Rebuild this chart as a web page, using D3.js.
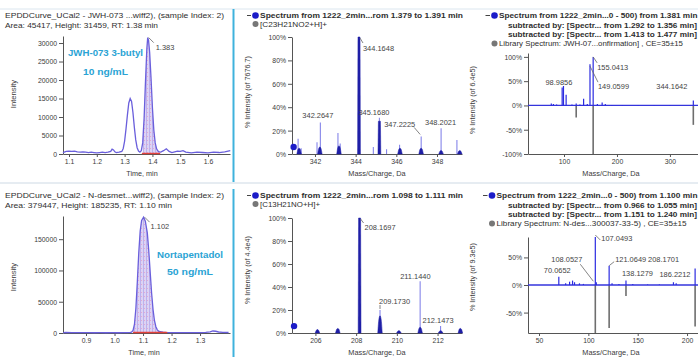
<!DOCTYPE html>
<html><head><meta charset="utf-8">
<script src="https://cdn.jsdelivr.net/npm/d3@7"></script>
<style>
body{margin:0;background:#fff;}
svg{display:block;}
</style></head><body>
<script>
// ---------- JWH-073 3-butyl : extracted-ion chromatogram ----------
const jwhTime = [1.078,1.09,1.10,1.11,1.12,1.13,1.14,1.15,1.16,1.17,1.18,1.19,1.20,1.21,1.22,1.23,1.24,1.25,1.255,1.26,1.265,1.27,1.28,1.29,1.295,1.30,1.305,1.31,1.315,1.32,1.325,1.33,1.335,1.34,1.345,1.35,1.355,1.36,1.365,1.37,1.375,1.38,1.383,1.386,1.39,1.395,1.40,1.405,1.41,1.415,1.42,1.425,1.43,1.44,1.45,1.46,1.47,1.48,1.49,1.50,1.51,1.52,1.54,1.56,1.58,1.60,1.62,1.64,1.66,1.68];
const jwhIntensity = [400,700,800,700,800,600,500,600,500,400,500,400,300,400,500,400,500,700,1300,1100,600,400,500,700,1500,3500,6800,10500,13800,15000,14200,11200,7200,3800,1700,800,500,900,3000,9500,19500,28500,31459,30800,27500,20500,12500,6500,3000,1400,800,600,500,900,1400,700,400,600,800,700,900,500,300,500,400,300,500,400,600,900];
const jwhApexRT = 1.383;
const jwhWindow = [1.362, 1.428];
const jwhYTicks = [0,5000,10000,15000,20000,25000,30000];
const jwhXTicks = [1.1,1.2,1.3,1.4,1.5,1.6];

// ---------- N-desmethyltapentadol : extracted-ion chromatogram ----------
const norTime = [0.82,0.83,0.85,0.87,0.89,0.91,0.93,0.95,0.97,0.99,1.01,1.03,1.045,1.055,1.06,1.065,1.07,1.075,1.08,1.085,1.09,1.095,1.102,1.108,1.115,1.12,1.125,1.13,1.135,1.14,1.145,1.15,1.155,1.16,1.17,1.18,1.20,1.22,1.24,1.26,1.28,1.30,1.32,1.335,1.345,1.355,1.365,1.38,1.40];
const norIntensity = [600,900,700,500,600,500,400,500,400,500,400,500,600,900,1500,4000,14000,40000,82000,128000,163000,180000,185235,179000,160000,132000,98000,64000,38000,20000,10000,5000,3000,2000,1200,900,700,600,500,600,500,700,900,1800,3200,2800,1600,1000,800];
const norApexRT = 1.102;
const norWindow = [1.065, 1.185];
const norYTicks = [0,50000,100000,150000];
const norXTicks = [0.9,1.0,1.1,1.2,1.3];

// ---------- TOF-MS spectra (centroid sticks + profile) ----------
const jwhMsStickMz  = [341.17,341.32,342.10,342.2647,343.13,343.24,344.1648,344.87,345.1680,345.52,346.16,347.2225,348.2021,348.98];
const jwhMsStickPct = [13,5,10,27,18,9,100,6,31,4,8,15,22,12];
const jwhMsProfileMz  = [341.22,342.24,343.18,344.1648,345.1680,346.18,347.22,348.20,349.12];
const jwhMsProfilePct = [5,6,7,100,28,5,5,3,3];
const jwhMsEdge = [340.95, 6];
const jwhMsLabels = [342.2647,344.1648,345.1680,347.2225,348.2021];
const jwhMsXTicks = [342,344,346,348];

const norMsStickMz  = [206.10,207.10,208.1697,209.1730,210.10,211.1440,212.1473,213.10];
const norMsStickPct = [3,3,100,20,2,45,6,4];
const norMsProfileMz  = [206.10,207.10,208.1697,209.1730,210.10,211.1440,212.15,213.12];
const norMsProfilePct = [3,4,100,15,2,5,2,4];
const norMsEdge = [204.95, 6];
const norMsLabels = [208.1697,209.1730,211.1440,212.1473];
const norMsXTicks = [206,208,210,212];

const pctTicks = [0,20,40,60,80,100];

// ---------- TOF-MS/MS spectra vs library (mirror plots) ----------
const jwhMsmsMz  = [76,80,86,96.5,98.9856,104,115,123,130,137,144,149.0599,155.0413,163,172,178,190,210,240,270,300,344.1642];
const jwhMsmsPct = [4,3,2,37,40,22,2,4,2,14,3,85,100,3,6,3,1,1,1,1,1,10];
const jwhLibMz  = [123,155.0413,344.1642];
const jwhLibPct = [-25,-100,-40];
const jwhMsmsLabels = [98.9856,149.0599,155.0413,344.1642];
const jwhMsmsXTicks = [100,200,300];
const jwhMsmsYTicks = [-100,-50,0,50,100];

const norMsmsMz  = [70.0652,77,81,84,86,91,95,107.0493,108.0527,121.0649,124,131,138.1279,145,160,172,186.2212,189,208.1701];
const norMsmsPct = [15,3,6,8,5,3,2,100,5,35,3,2,8,2,1,1,5,3,30];
const norLibMz  = [107.0493,121.0649,138.1279,208.1701];
const norLibPct = [-100,-78,-20,-75];
const norMsmsLabels = [70.0652,107.0493,108.0527,121.0649,138.1279,186.2212,208.1701];
const norMsmsXTicks = [50,100,150,200];
const norMsmsYTicks = [-50,0,50];

// ================= drawing =================
const W = 698, H = 357;
const FONT = '"Liberation Sans", Arial, Helvetica, sans-serif';
const TEXT = "#3a3a3a", AXIS = "#555";
const TEAL = "#2aa3d4";

const svg = d3.select("body").append("svg")
  .attr("width", W).attr("height", H)
  .attr("font-family", FONT);
svg.append("rect").attr("width", W).attr("height", H).attr("fill", "#fff");

// integrated-area fill: lavender with a fine dotted hatch
const defs = svg.append("defs");
const pat = defs.append("pattern").attr("id", "hatch")
  .attr("patternUnits", "userSpaceOnUse").attr("width", 3).attr("height", 4);
pat.append("rect").attr("width", 3).attr("height", 4).attr("fill", "#dcd3f4");
pat.append("rect").attr("width", 1).attr("height", 1).attr("fill", "#e4a9d2");
pat.append("rect").attr("x", 2).attr("width", 0.6).attr("height", 4).attr("fill", "#a99ae8");

function squeeze(node, k) {
  const w = node.getComputedTextLength();
  d3.select(node).attr("textLength", w * k).attr("lengthAdjust", "spacingAndGlyphs");
}

function label(g, x, y, s, o = {}) {
  const t = g.append("text").attr("x", x).attr("y", y).attr("dy", "0.35em").text(s)
    .attr("font-size", o.size || 8).attr("fill", o.fill || TEXT)
    .attr("text-anchor", o.anchor || "start");
  if (o.bold) t.attr("font-weight", "bold");
  if (o.rotate) t.attr("transform", `rotate(-90,${x},${y})`);
  if (o.width) t.attr("textLength", o.width).attr("lengthAdjust", "spacingAndGlyphs");
  else squeeze(t.node(), o.k || 0.9);
  return t;
}

function drawAxes(g, x, y, o) {
  const ax = g.append("g").attr("transform", `translate(0,${o.xAxisY})`)
    .call(d3.axisBottom(x).tickValues(o.xTicks).tickFormat(o.xFmt).tickSize(3).tickPadding(2).tickSizeOuter(0));
  const ay = g.append("g").attr("transform", `translate(${o.yAxisX},0)`)
    .call(d3.axisLeft(y).tickValues(o.yTicks).tickFormat(o.yFmt).tickSize(4).tickPadding(2).tickSizeOuter(0));
  [ax, ay].forEach(a => {
    a.attr("font-family", FONT).attr("font-size", 7.6);
    a.select(".domain").attr("stroke", AXIS);
    a.selectAll(".tick line").attr("stroke", AXIS);
    a.selectAll("text").attr("fill", TEXT).each(function () { squeeze(this, 0.9); });
  });
}

function peakLabels(g, x, y, list, lookup, layout, fmt) {
  list.forEach((v, i) => {
    const L = layout[i];
    const px = x(v), py = y(lookup(v));
    if (L.leader) {
      g.append("line")
        .attr("x1", px + L.leader[0]).attr("y1", py + L.leader[1])
        .attr("x2", px + L.leader[2]).attr("y2", py + L.leader[3])
        .attr("stroke", "#666").attr("stroke-width", 0.8);
    }
    label(g, px + L.dx, py + L.dy, fmt(v), { size: 8, k: 0.93, fill: "#444" });
  });
}

function header(g, x, y, s, width, bold) {
  return label(g, x, y, s, { size: 8, bold: bold, width: width, fill: "#2e2e2e" });
}

// ---------- chromatogram panel ----------
function chromPanel(c) {
  const g = svg.append("g");
  const x = d3.scaleLinear().domain(c.xDomain).range([c.left, c.right]);
  const y = d3.scaleLinear().domain(c.yDomain).range([c.bottom, c.top]);
  const pts = c.time.map((t, i) => [t, c.intensity[i]]);

  header(g, 5, c.headY, c.head1, c.head1W, false);
  header(g, 5, c.headY + 9.5, c.head2, c.head2W, false);

  const win = pts.filter(p => p[0] >= c.window[0] && p[0] <= c.window[1]);
  g.append("path").datum(win)
    .attr("d", d3.area().x(d => x(d[0])).y0(y(0)).y1(d => y(d[1])))
    .attr("fill", "url(#hatch)");

  drawAxes(g, x, y, {
    xAxisY: c.bottom, yAxisX: c.left, xTicks: c.xTicks, yTicks: c.yTicks,
    xFmt: d3.format(".1f"), yFmt: d3.format("d")
  });

  g.append("path").datum(pts)
    .attr("d", d3.line().x(d => x(d[0])).y(d => y(d[1])))
    .attr("fill", "none").attr("stroke", "#6a5fdc").attr("stroke-width", 1.3);
  g.append("line").attr("x1", x(c.window[0])).attr("x2", x(c.window[1]))
    .attr("y1", y(0) - 0.5).attr("y2", y(0) - 0.5)
    .attr("stroke", "#e2413c").attr("stroke-width", 1.4);

  const apexI = c.intensity[c.time.indexOf(c.apex)];
  peakLabels(g, x, y, [c.apex], () => apexI, [c.apexLayout], d => d.toFixed(3));

  label(g, 13, c.yTitleY, "Intensity", { size: 8, rotate: true, anchor: "middle", k: 0.95 });
  label(g, c.xTitleX, c.bottom + 19, "Time, min", { size: 8, anchor: "middle", k: 0.9 });

  c.tag.forEach((s, i) => label(g, c.tagX[i], c.tagY[i], s,
    { size: 9.5, bold: true, fill: TEAL, width: c.tagW[i] }));
}

// ---------- TOF-MS panel ----------
function msPanel(c) {
  const g = svg.append("g");
  const x = d3.scaleLinear().domain(c.xDomain).range([292, 462]);
  const y = d3.scaleLinear().domain([0, 100]).range([c.bottom, c.top]);

  g.append("line").attr("x1", 247).attr("x2", 251).attr("y1", c.headY).attr("y2", c.headY)
    .attr("stroke", "#444");
  g.append("circle").attr("cx", 255.5).attr("cy", c.headY).attr("r", 3.3).attr("fill", "#1c1cc8");
  header(g, 260, c.headY, c.head1, 203, true);
  g.append("circle").attr("cx", 255.5).attr("cy", c.headY + 8.5).attr("r", 3).attr("fill", "#777");
  header(g, 260, c.headY + 8.5, c.head2, c.head2W, false);

  drawAxes(g, x, y, {
    xAxisY: c.bottom, yAxisX: 292, xTicks: c.xTicks, yTicks: pctTicks,
    xFmt: d3.format("d"), yFmt: d => d + "%"
  });

  const plot = g.append("g");
  c.stickMz.forEach((m, i) => plot.append("line")
    .attr("x1", x(m)).attr("x2", x(m)).attr("y1", y(0)).attr("y2", y(c.stickPct[i]))
    .attr("stroke", "#8585ea").attr("stroke-width", 1.1));
  // profile peaks: narrow dark bars, rounded at the base
  const prof = d3.line().x(d => x(d[0])).y(d => y(d[1])).curve(d3.curveMonotoneX);
  c.profMz.forEach((m, i) => {
    const h = c.profPct[i];
    const tall = h > 20;
    const half = tall ? 0.05 : 0.11;
    const shape = tall
      ? [[m - 0.07, 0], [m - half, h], [m + half, h], [m + 0.07, 0]]
      : [[m - half, 0], [m - half * 0.5, h * 0.8], [m, h], [m + half * 0.5, h * 0.8], [m + half, 0]];
    plot.append("path")
      .attr("d", (tall ? d3.line().x(d => x(d[0])).y(d => y(d[1])) : prof)(shape) + "Z")
      .attr("fill", "#1f1fa6").attr("stroke", "#1f1fa6").attr("stroke-width", 0.5);
  });
  plot.append("circle").attr("cx", x(c.edge[0])).attr("cy", y(c.edge[1])).attr("r", 3.2).attr("fill", "#1c1cc8");

  const lookup = v => {
    let best = 0;
    c.stickMz.forEach((m, i) => { if (Math.abs(m - v) < 0.02) best = Math.max(best, c.stickPct[i]); });
    return best;
  };
  peakLabels(g, x, y, c.labels, lookup, c.layout, d => d.toFixed(4));

  label(g, 247, c.yTitleY, c.yTitle, { size: 8, rotate: true, anchor: "middle", k: 0.9 });
  label(g, 377, c.bottom + 19, "Mass/Charge, Da", { size: 8, anchor: "middle", k: 0.92 });
}

// ---------- TOF-MS/MS mirror panel ----------
function msmsPanel(c) {
  const g = svg.append("g");
  const x = d3.scaleLinear().domain(c.xDomain).range([528, 698]);
  const y = d3.scaleLinear().domain(c.yDomain).range([c.bottom, c.top]).clamp(true);

  g.append("line").attr("x1", c.dotX - 9).attr("x2", c.dotX - 4.5).attr("y1", c.headY).attr("y2", c.headY)
    .attr("stroke", "#444");
  g.append("circle").attr("cx", c.dotX).attr("cy", c.headY).attr("r", 3.3).attr("fill", "#1c1cc8");
  header(g, c.dotX + 4.5, c.headY, c.head[0], 698 - c.dotX - 5, true);
  header(g, 697, c.headY + 9.5, c.head[1], 189, true).attr("text-anchor", "end");
  header(g, 697, c.headY + 18.8, c.head[2], 189, true).attr("text-anchor", "end");
  g.append("circle").attr("cx", c.dotX).attr("cy", c.headY + 28).attr("r", 3).attr("fill", "#777");
  header(g, c.dotX + 4.5, c.headY + 28, c.head[3], c.libW, false);

  drawAxes(g, x, y, {
    xAxisY: c.bottom, yAxisX: 528, xTicks: c.xTicks, yTicks: c.yTicks,
    xFmt: d3.format("d"), yFmt: d => d + "%"
  });

  const plot = g.append("g");
  c.libMz.forEach((m, i) => plot.append("line")
    .attr("x1", x(m)).attr("x2", x(m)).attr("y1", y(0)).attr("y2", y(c.libPct[i]))
    .attr("stroke", "#6e6e6e").attr("stroke-width", 1.6));
  plot.append("line").attr("x1", 528).attr("x2", 698).attr("y1", y(0)).attr("y2", y(0))
    .attr("stroke", "#3434dc").attr("stroke-width", 1.3);
  c.mz.forEach((m, i) => plot.append("line")
    .attr("x1", x(m)).attr("x2", x(m)).attr("y1", y(0)).attr("y2", y(c.pct[i]))
    .attr("stroke", "#2b2be0").attr("stroke-width", 1.2));

  const lookup = v => c.pct[c.mz.indexOf(v)];
  peakLabels(g, x, y, c.labels, lookup, c.layout, d => d.toFixed(4));

  label(g, 472, c.yTitleY, c.yTitle, { size: 8, rotate: true, anchor: "middle", k: 0.9 });
  label(g, 611, c.bottom + 19, "Mass/Charge, Da", { size: 8, anchor: "middle", k: 0.92 });
}

// ---------- panel frames ----------
svg.append("line").attr("x1", 0).attr("x2", W).attr("y1", 9).attr("y2", 9)
  .attr("stroke", "#dbe6ef").attr("stroke-width", 1);
svg.append("line").attr("x1", 0).attr("x2", W).attr("y1", 183).attr("y2", 183)
  .attr("stroke", "#cdd9e4").attr("stroke-width", 1);
svg.append("line").attr("x1", 233.5).attr("x2", 233.5).attr("y1", 9).attr("y2", 182)
  .attr("stroke", "#3fb2dc").attr("stroke-width", 2);
svg.append("line").attr("x1", 233.5).attr("x2", 233.5).attr("y1", 189).attr("y2", H)
  .attr("stroke", "#3fb2dc").attr("stroke-width", 2);

// ---------- top row : JWH-073 3-butyl ----------
chromPanel({
  time: jwhTime, intensity: jwhIntensity, apex: jwhApexRT, window: jwhWindow,
  xDomain: [1.0784, 1.679], yDomain: [0, 31900], xTicks: jwhXTicks, yTicks: jwhYTicks,
  left: 63, right: 230, top: 36, bottom: 154,
  headY: 15.5, head1: "EPDDCurve_UCal2 - JWH-073 ...wiff2), (sample Index: 2)", head1W: 219,
  head2: "Area: 45417, Height: 31459, RT: 1.38 min", head2W: 153,
  apexLayout: { dx: 8, dy: 10, leader: [1, 0, 6, 5] },
  yTitleY: 94, xTitleX: 142,
  tag: ["JWH-073 3-butyl", "10 ng/mL"], tagX: [68, 83], tagY: [53, 72], tagW: [75, 45]
});

msPanel({
  xDomain: [340.87, 349.23], top: 37, bottom: 154, xTicks: jwhMsXTicks,
  stickMz: jwhMsStickMz, stickPct: jwhMsStickPct, profMz: jwhMsProfileMz, profPct: jwhMsProfilePct,
  edge: jwhMsEdge, labels: jwhMsLabels,
  layout: [
    { dx: -18, dy: -7 },
    { dx: 4, dy: 11, leader: [1, 1, 4, 6] },
    { dx: -21, dy: -6 },
    { dx: -37, dy: -12, leader: [-1, -2, -7, -9] },
    { dx: -16, dy: -6 }
  ],
  headY: 15.5, head1: "Spectrum from 1222_2min...rom 1.379 to 1.391 min",
  head2: "[C23H21NO2+H]+", head2W: 67,
  yTitle: "% Intensity (of 7676.7)", yTitleY: 92
});

msmsPanel({
  xDomain: [32, 353], yDomain: [-100, 108], top: 53, bottom: 154,
  xTicks: jwhMsmsXTicks, yTicks: jwhMsmsYTicks,
  mz: jwhMsmsMz, pct: jwhMsmsPct, libMz: jwhLibMz, libPct: jwhLibPct, labels: jwhMsmsLabels,
  layout: [
    { dx: -18, dy: -4 },
    { dx: 8, dy: 22, leader: [0, 2, 8, 18] },
    { dx: 4, dy: 10, leader: [0, 0, 4, 6] },
    { dx: -37, dy: -14 }
  ],
  dotX: 494.5, headY: 15.5, libW: 184,
  head: [
    "Spectrum from 1222_2min...0 - 500) from 1.381 min",
    "subtracted by: [Spectr... from 1.292 to 1.356 min]",
    "subtracted by: [Spectr... from 1.413 to 1.477 min]",
    "Library Spectrum: JWH-07...onfirmation] , CE=35\u00b115"
  ],
  yTitle: "% Intensity (of 6.4e5)", yTitleY: 100
});

// ---------- bottom row : N-desmethyltapentadol ----------
chromPanel({
  time: norTime, intensity: norIntensity, apex: norApexRT, window: norWindow,
  xDomain: [0.8193, 1.405], yDomain: [0, 187100], xTicks: norXTicks, yTicks: norYTicks,
  left: 63, right: 230, top: 216, bottom: 333,
  headY: 195.5, head1: "EPDDCurve_UCal2 - N-desmet...wiff2), (sample Index: 2)", head1W: 219,
  head2: "Area: 379447, Height: 185235, RT: 1.10 min", head2W: 167,
  apexLayout: { dx: 7, dy: 9, leader: [1, 0, 6, 5] },
  yTitleY: 277, xTitleX: 144,
  tag: ["Nortapentadol", "50 ng/mL"], tagX: [157, 167], tagY: [255, 272], tagW: [66, 46]
});

msPanel({
  xDomain: [204.85, 213.2], top: 218, bottom: 333, xTicks: norMsXTicks,
  stickMz: norMsStickMz, stickPct: norMsStickPct, profMz: norMsProfileMz, profPct: norMsProfilePct,
  edge: norMsEdge, labels: norMsLabels,
  layout: [
    { dx: 5, dy: 9, leader: [1, 1, 4, 5] },
    { dx: -1, dy: -9, leader: [0, -1, 0, -5] },
    { dx: -20, dy: -5 },
    { dx: -18, dy: -6 }
  ],
  headY: 195.5, head1: "Spectrum from 1222_2min...rom 1.098 to 1.111 min",
  head2: "[C13H21NO+H]+", head2W: 60,
  yTitle: "% Intensity (of 4.4e4)", yTitleY: 270
});

msmsPanel({
  xDomain: [38.85, 211.1], yDomain: [-87, 87], top: 237, bottom: 333,
  xTicks: norMsmsXTicks, yTicks: norMsmsYTicks,
  mz: norMsmsMz, pct: norMsmsPct, libMz: norLibMz, libPct: norLibPct, labels: norMsmsLabels,
  layout: [
    { dx: -15, dy: -7 },
    { dx: 6, dy: 1, leader: [0, -2, 5, 3] },
    { dx: -45, dy: -23, leader: [-3, -1, -16, -18] },
    { dx: 6, dy: -6, leader: [0, 0, 5, -4] },
    { dx: -4, dy: -7 },
    { dx: -14, dy: -8 },
    { dx: -47, dy: -9 }
  ],
  dotX: 492, headY: 195.5, libW: 190,
  head: [
    "Spectrum from 1222_2min...0 - 500) from 1.100 min",
    "subtracted by: [Spectr... from 0.966 to 1.055 min]",
    "subtracted by: [Spectr... from 1.151 to 1.240 min]",
    "Library Spectrum: N-des...300037-33-5) , CE=35\u00b115"
  ],
  yTitle: "% Intensity (of 9.3e5)", yTitleY: 277
});
</script>
</body></html>
